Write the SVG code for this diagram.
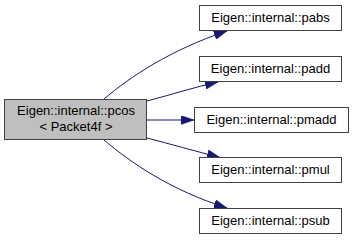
<svg xmlns="http://www.w3.org/2000/svg" width="352" height="240" viewBox="0 0 352 240">
  <style>
    .node rect { stroke: #404040; stroke-width: 1; }
    .node text { font-family: "Liberation Sans", Arial, sans-serif; font-size: 13px; fill: #000; text-anchor: middle; }
    .edge { fill: none; stroke: #191970; stroke-width: 1; }
  </style>
  <defs>
    <marker id="arrow" viewBox="0 0 13 9" refX="13" refY="4.5" markerWidth="13" markerHeight="9" markerUnits="userSpaceOnUse" orient="auto">
      <path d="M0,0 L13,4.5 L0,9 Z" fill="#191970" stroke="#191970" stroke-width="0.5"/>
    </marker>
  </defs>
  <rect width="352" height="240" fill="#ffffff"/>

  <!-- call edges from pcos to each callee -->
  <g id="edges">
    <path class="edge" marker-end="url(#arrow)" d="M104,99 C130,77 170,50 227,31"/>
    <path class="edge" marker-end="url(#arrow)" d="M147,101 C170,95 195,87 218,82"/>
    <path class="edge" marker-end="url(#arrow)" d="M147,120 L194,120"/>
    <path class="edge" marker-end="url(#arrow)" d="M147,138 C170,144 195,151 220,157.5"/>
    <path class="edge" marker-end="url(#arrow)" d="M104,140 C130,162 170,190 227,208"/>
  </g>

  <g id="pcos" class="node">
    <rect x="4.5" y="99.5" width="142" height="40" fill="#bfbfbf"/>
    <text x="76" y="115">Eigen::internal::pcos</text>
    <text x="76" y="131">&lt; Packet4f &gt;</text>
  </g>
  <g id="pabs" class="node">
    <rect x="199.5" y="5.5" width="142" height="25" fill="#ffffff"/>
    <text x="270.5" y="22">Eigen::internal::pabs</text>
  </g>
  <g id="padd" class="node">
    <rect x="199.5" y="56.5" width="142" height="25" fill="#ffffff"/>
    <text x="270.5" y="73">Eigen::internal::padd</text>
  </g>
  <g id="pmadd" class="node">
    <rect x="194.5" y="107.5" width="154" height="25" fill="#ffffff"/>
    <text x="271.5" y="124">Eigen::internal::pmadd</text>
  </g>
  <g id="pmul" class="node">
    <rect x="199.5" y="157.5" width="142" height="25" fill="#ffffff"/>
    <text x="270.5" y="174">Eigen::internal::pmul</text>
  </g>
  <g id="psub" class="node">
    <rect x="199.5" y="208.5" width="142" height="25" fill="#ffffff"/>
    <text x="270.5" y="225">Eigen::internal::psub</text>
  </g>
</svg>
